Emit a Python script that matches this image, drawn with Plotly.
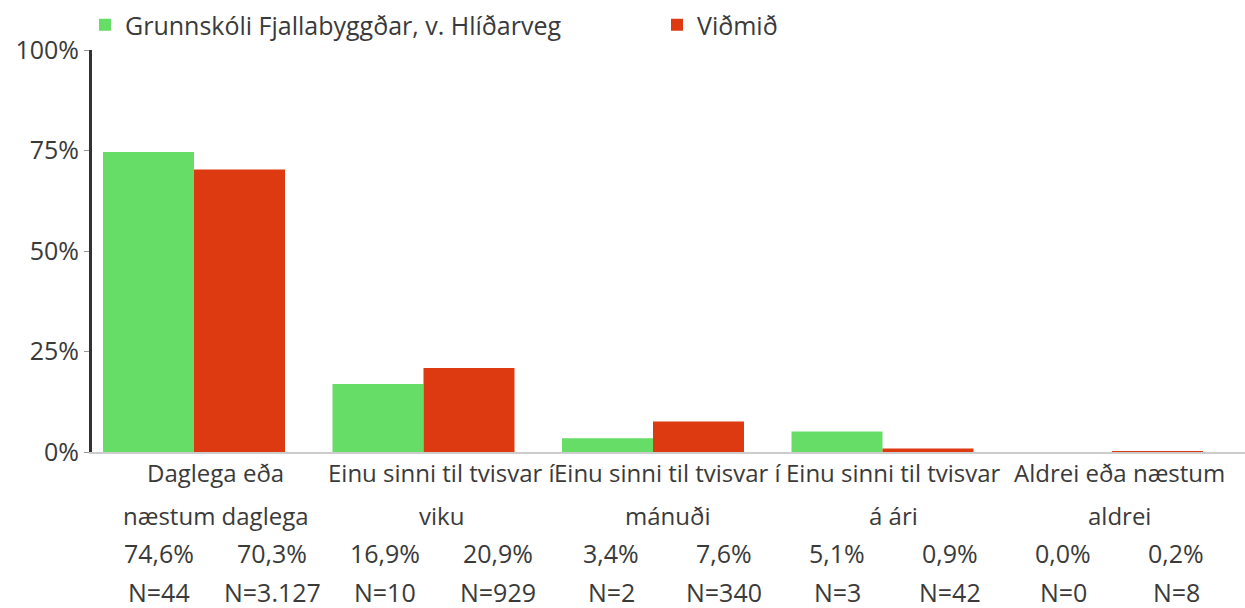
import plotly.graph_objects as go

# Survey answers: how often, school vs. benchmark
categories = [
    "Daglega eða næstum daglega",
    "Einu sinni til tvisvar í viku",
    "Einu sinni til tvisvar í mánuði",
    "Einu sinni til tvisvar á ári",
    "Aldrei eða næstum aldrei",
]
category_lines = [
    ("Daglega eða", "næstum daglega"),
    ("Einu sinni til tvisvar í", "viku"),
    ("Einu sinni til tvisvar í", "mánuði"),
    ("Einu sinni til tvisvar", "á ári"),
    ("Aldrei eða næstum", "aldrei"),
]
school_name = "Grunnskóli Fjallabyggðar, v. Hlíðarveg"
bench_name = "Viðmið"
school_pct = [74.6, 16.9, 3.4, 5.1, 0.0]
bench_pct = [70.3, 20.9, 7.6, 0.9, 0.2]
school_n = [44, 10, 2, 3, 0]
bench_n = [3127, 929, 340, 42, 8]
y_ticks = [0, 25, 50, 75, 100]

GREEN = "#66dd66"
RED = "#dd3a12"
TEXT = "#3a3a3a"
FONT = "Open Sans"
FS = 25       # numbers, ticks, legend
FS_CAT = 24   # category labels

W, H = 1245, 608
L, R, T, B = 92, 0, 50, 156


def fmt_pct(v):
    return f"{v:.1f}".replace(".", ",") + "%"


def fmt_n(v):
    return "N=" + f"{v:,}".replace(",", ".")


def px_to_paper(px):
    return (px - L) / (W - L - R)


def py_to_paper(py):
    return (H - B - py) / (H - T - B)


x = list(range(len(categories)))

fig = go.Figure()
fig.add_bar(x=x, y=school_pct, name=school_name, marker_color=GREEN,
            marker_line_width=0, hoverinfo="skip", legend="legend")
fig.add_bar(x=x, y=bench_pct, name=bench_name, marker_color=RED,
            marker_line_width=0, hoverinfo="skip", legend="legend2")

annotations = []
# category labels (two lines each) centered under each pair of value columns
col_w = 113
col0 = 159
for i, (l1, l2) in enumerate(category_lines):
    cx = col0 + col_w * (2 * i) + col_w / 2
    for text, py in ((l1, 472), (l2, 515)):
        annotations.append(dict(text=text, x=px_to_paper(cx), y=py_to_paper(py),
                                xref="paper", yref="paper", showarrow=False,
                                xanchor="center", yanchor="middle",
                                font=dict(family=FONT, size=FS_CAT, color=TEXT)))
    for j, (pct, n) in enumerate(((school_pct[i], school_n[i]), (bench_pct[i], bench_n[i]))):
        vx = col0 + col_w * (2 * i + j)
        for text, py in ((fmt_pct(pct), 553), (fmt_n(n), 592)):
            annotations.append(dict(text=text, x=px_to_paper(vx), y=py_to_paper(py),
                                    xref="paper", yref="paper", showarrow=False,
                                    xanchor="center", yanchor="middle",
                                    font=dict(family=FONT, size=FS, color=TEXT)))

legend_common = dict(orientation="h", xanchor="left", yanchor="middle",
                     xref="container", yref="container", y=1 - 25 / H,
                     bgcolor="rgba(0,0,0,0)",
                     font=dict(family=FONT, size=FS, color=TEXT),
                     itemclick=False, itemdoubleclick=False)

fig.update_layout(
    width=W, height=H,
    margin=dict(l=L, r=R, t=T, b=B, pad=0, autoexpand=False),
    paper_bgcolor="white", plot_bgcolor="white",
    barmode="group", bargap=0.207, bargroupgap=0,
    font=dict(family=FONT, size=FS, color=TEXT),
    showlegend=True,
    legend=dict(x=85 / W, **legend_common),
    legend2=dict(x=657 / W, **legend_common),
    annotations=annotations,
)

fig.update_xaxes(range=[-(194 - L) / 229.5, (W - R - 194) / 229.5],
                 showticklabels=False, ticks="", showgrid=False, zeroline=False,
                 showline=True, linecolor="#cccccc", linewidth=2)
fig.update_yaxes(range=[0, 100], tickvals=y_ticks,
                 ticktext=[f"{v}%" for v in y_ticks],
                 ticks="outside", ticklen=5, tickcolor="#999999", tickwidth=1,
                 showgrid=False, zeroline=False,
                 showline=True, linecolor="#333333", linewidth=3,
                 tickfont=dict(family=FONT, size=FS, color=TEXT))

fig.write_html("out.html")
